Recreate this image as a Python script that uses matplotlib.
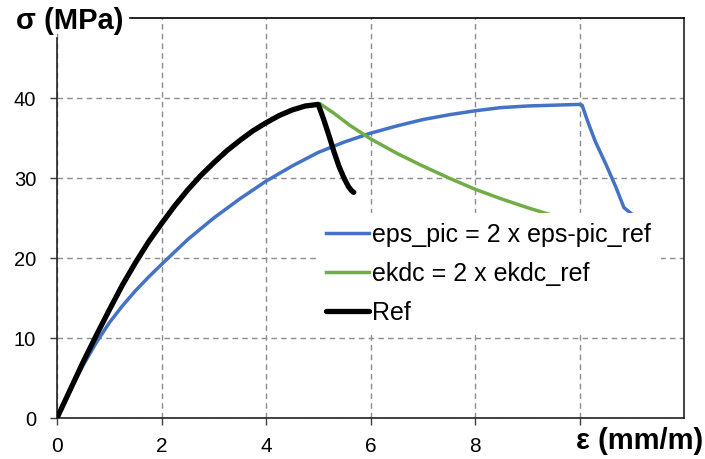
import matplotlib.pyplot as plt

plt.rcParams['font.family'] = ['Liberation Sans', 'DejaVu Sans']

# Ref curve (black)
ref_x = [0, 0.25, 0.5, 0.75, 1.0, 1.25, 1.5, 1.75, 2.0, 2.25, 2.5, 2.75, 3.0, 3.25, 3.5, 3.75,
         4.0, 4.25, 4.5, 4.75, 5.0, 5.1, 5.2, 5.3, 5.4, 5.5, 5.58, 5.64, 5.68]
ref_y = [0, 3.5, 7.0, 10.3, 13.5, 16.6, 19.4, 22.0, 24.3, 26.5, 28.5, 30.3, 31.9, 33.4, 34.7, 35.9,
         36.9, 37.8, 38.5, 39.0, 39.2, 37.4, 35.4, 33.3, 31.4, 29.9, 28.9, 28.4, 28.2]

# eps_pic = 2 x eps-pic_ref (blue)
eps_x = [0, 0.25, 0.5, 0.75, 1.0, 1.25, 1.5, 1.75, 2.0, 2.5, 3.0, 3.5, 4.0, 4.5, 5.0, 5.5, 6.0, 6.5,
         7.0, 7.5, 8.0, 8.5, 9.0, 9.5, 10.0, 10.05, 10.15, 10.3, 10.5, 10.7, 10.85, 11.0, 11.15]
eps_y = [0, 3.4, 6.6, 9.4, 11.9, 14.0, 15.9, 17.6, 19.2, 22.3, 25.0, 27.4, 29.6, 31.5, 33.2, 34.5,
         35.6, 36.5, 37.3, 37.9, 38.4, 38.8, 39.0, 39.1, 39.2, 39.1, 37.2, 34.6, 31.8, 28.8, 26.3,
         25.5, 25.0]

# ekdc = 2 x ekdc_ref (green)
ekdc_x = [5.05, 5.3, 5.6, 6.0, 6.5, 7.0, 7.5, 8.0, 8.5, 9.0, 9.5, 10.0, 10.5]
ekdc_y = [39.2, 38.1, 36.6, 34.9, 33.1, 31.5, 30.0, 28.6, 27.4, 26.3, 25.3, 24.4, 23.6]

x_ticks = [0, 2, 4, 6, 8, 10]
x_labels = ['0', '2', '4', '6', '8', '']
y_ticks = [0, 10, 20, 30, 40]

fig = plt.figure(figsize=(7.05, 4.59), dpi=100)
ax = fig.add_axes([57 / 705, 1 - 418 / 459, 627 / 705, 400 / 459])

ax.plot(eps_x, eps_y, color='#4472C4', lw=2.5, label='eps_pic = 2 x eps-pic_ref', zorder=3)
ax.plot(ekdc_x, ekdc_y, color='#70AD47', lw=2.5, label='ekdc = 2 x ekdc_ref', zorder=4)
ax.plot(ref_x, ref_y, color='black', lw=3.8, label='Ref', zorder=5,
        solid_joinstyle='round', solid_capstyle='round')

ax.set_xlim(0, 12)
ax.set_ylim(0, 50)
ax.set_xticks(x_ticks)
ax.set_xticklabels(x_labels)
ax.set_yticks(y_ticks)
ax.tick_params(direction='out', length=5, width=1, color='#404040', labelsize=14.5)
ax.tick_params(axis='y', pad=10)
ax.tick_params(axis='x', pad=9, labelsize=15)
ax.grid(True, color='#8c8c8c', linestyle=(0, (4, 3)), linewidth=1, zorder=1)

for s in ax.spines.values():
    s.set_color('#222222')
    s.set_linewidth(1.2)
ax.spines['left'].set_bounds(0, 47.5)
ax.spines['top'].set_bounds(1.4, 12)
ax.spines['top'].set_color('black')

fig.text(16 / 705, 1 - 21 / 459, 'σ (MPa)', fontsize=21, fontweight='bold', ha='left', va='center')
fig.text(576 / 705, 1 - 441 / 459, 'ε (mm/m)', fontsize=21, fontweight='bold', ha='left', va='center')

leg = ax.legend(loc='upper left', bbox_to_anchor=(316 / 705, 1 - 213 / 459),
                bbox_transform=fig.transFigure, fontsize=18, frameon=True,
                facecolor='white', edgecolor='none', framealpha=1, fancybox=False,
                handlelength=1.7, handletextpad=0.15, labelspacing=0.6,
                borderpad=0.4, borderaxespad=0)
leg.set_zorder(10)

fig.savefig('out.png', dpi=100)
